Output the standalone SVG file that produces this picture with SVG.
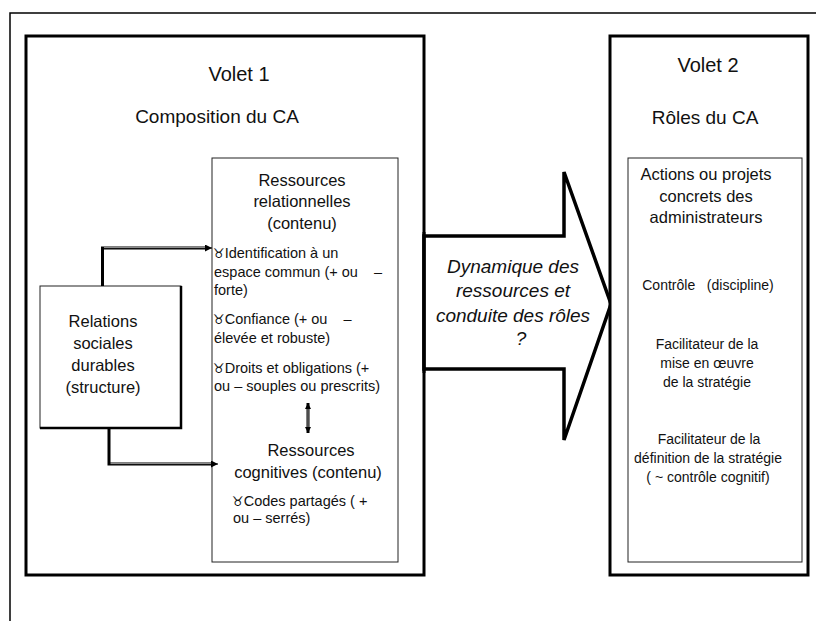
<svg xmlns="http://www.w3.org/2000/svg" width="816" height="621" viewBox="0 0 816 621">
<style>
text{font-family:"Liberation Sans",Arial,sans-serif;fill:#111;white-space:pre}
.c{text-anchor:middle}
.h{font-size:20px}
.s{font-size:19px}
.m{font-size:16.5px}
.b{font-size:14.5px}
.r{font-size:14px}
.i{font-style:italic;font-size:19px}
.g{font-family:"DejaVu Sans",sans-serif;font-size:13px}
.thin{fill:#fff;stroke:#222;stroke-width:1}
</style>
<defs>
<marker id="ah" viewBox="0 0 10 10" refX="10" refY="5" markerWidth="7" markerHeight="7" markerUnits="userSpaceOnUse" orient="auto">
<path d="M0,0 L10,5 L0,10 z" fill="#000"/>
</marker>
<marker id="ahs" viewBox="0 0 10 10" refX="10" refY="5" markerWidth="6" markerHeight="6" markerUnits="userSpaceOnUse" orient="auto-start-reverse">
<path d="M0,0 L10,5 L0,10 z" fill="#000"/>
</marker>
</defs>
<rect width="816" height="621" fill="#fff"/>
<rect id="frame" x="10" y="13" width="830" height="640" fill="none" stroke="#000" stroke-width="1.5"/>

<g id="volet1">
<rect x="26" y="36" width="398" height="539" fill="#fff" stroke="#000" stroke-width="3"/>
<text class="h c" x="239" y="81">Volet 1</text>
<text class="s c" x="217" y="123">Composition du CA</text>
</g>

<g id="fleche">
<polygon points="424,236 564,236 564,172 611,304 564,440 564,369 424,369" fill="#fff" stroke="#000" stroke-width="3.5" stroke-linejoin="miter"/>
<line x1="424" y1="232" x2="424" y2="373" stroke="#000" stroke-width="3"/>
<text class="i c" x="513" y="273">Dynamique des</text>
<text class="i c" x="513" y="297">ressources et</text>
<text class="i c" x="513" y="322">conduite des rôles</text>
<text class="i c" x="521" y="345">?</text>
</g>

<g id="volet2">
<rect x="610" y="36" width="198" height="539" fill="#fff" stroke="#000" stroke-width="3"/>
<text class="h c" x="708" y="72">Volet 2</text>
<text class="s c" x="705" y="124">Rôles du CA</text>
</g>

<g id="ressources">
<rect class="thin" x="212" y="158" width="186" height="404"/>
<text class="m c" x="302" y="186">Ressources</text>
<text class="m c" x="302" y="207">relationnelles</text>
<text class="m c" x="302" y="229">(contenu)</text>
<text class="b" x="213" y="258"><tspan class="g">♉</tspan>Identification à un</text>
<text class="b" x="214" y="277">espace commun (+ ou    –</text>
<text class="b" x="214" y="295">forte)</text>
<text class="b" x="213" y="324"><tspan class="g">♉</tspan>Confiance (+ ou    –</text>
<text class="b" x="214" y="343">élevée et robuste)</text>
<text class="b" x="213" y="373"><tspan class="g">♉</tspan>Droits et obligations (+</text>
<text class="b" x="214" y="391">ou – souples ou prescrits)</text>
<text class="m c" x="311" y="456">Ressources</text>
<text class="m c" x="308" y="478">cognitives (contenu)</text>
<text class="b" x="232" y="506"><tspan class="g">♉</tspan>Codes partagés ( +</text>
<text class="b" x="233" y="523">ou – serrés)</text>
</g>

<g id="relations">
<rect x="40" y="286" width="141" height="142" fill="#fff" stroke="#222" stroke-width="1"/>
<path d="M181,286 V428 H40" fill="none" stroke="#000" stroke-width="2.5"/>
<text class="m c" x="103" y="327">Relations</text>
<text class="m c" x="103" y="349">sociales</text>
<text class="m c" x="103" y="371">durables</text>
<text class="m c" x="103" y="393">(structure)</text>
</g>

<g id="roles">
<rect class="thin" x="628" y="158" width="174" height="404"/>
<text class="m c" x="706" y="180">Actions ou projets</text>
<text class="m c" x="706" y="202">concrets des</text>
<text class="m c" x="706" y="223">administrateurs</text>
<text class="r c" x="708" y="290">Contrôle   (discipline)</text>
<text class="r c" x="707" y="349">Facilitateur de la</text>
<text class="r c" x="707" y="368">mise en œuvre</text>
<text class="r c" x="707" y="387">de la stratégie</text>
<text class="r c" x="709" y="444">Facilitateur de la</text>
<text class="r c" x="708" y="463">définition de la stratégie</text>
<text class="r c" x="708" y="482">( ~ contrôle cognitif)</text>
</g>

<g id="connectors">
<path d="M102.5,286 V248 H205" fill="none" stroke="#000" stroke-width="3" stroke-linejoin="miter"/>
<line x1="104" y1="247.6" x2="205" y2="247.6" stroke="#999" stroke-width="1"/>
<line x1="205" y1="248" x2="212" y2="248" stroke="#000" stroke-width="1" marker-end="url(#ah)"/>
<path d="M109,428 V464 H211" fill="none" stroke="#000" stroke-width="3" stroke-linejoin="miter"/>
<line x1="110.5" y1="463.6" x2="211" y2="463.6" stroke="#999" stroke-width="1"/>
<line x1="211" y1="464" x2="218" y2="464" stroke="#000" stroke-width="1" marker-end="url(#ah)"/>
<line x1="308" y1="403" x2="308" y2="433" stroke="#000" stroke-width="3" marker-start="url(#ahs)" marker-end="url(#ahs)"/>
<line x1="308" y1="409" x2="308" y2="427" stroke="#999" stroke-width="1"/>
</g>
</svg>
